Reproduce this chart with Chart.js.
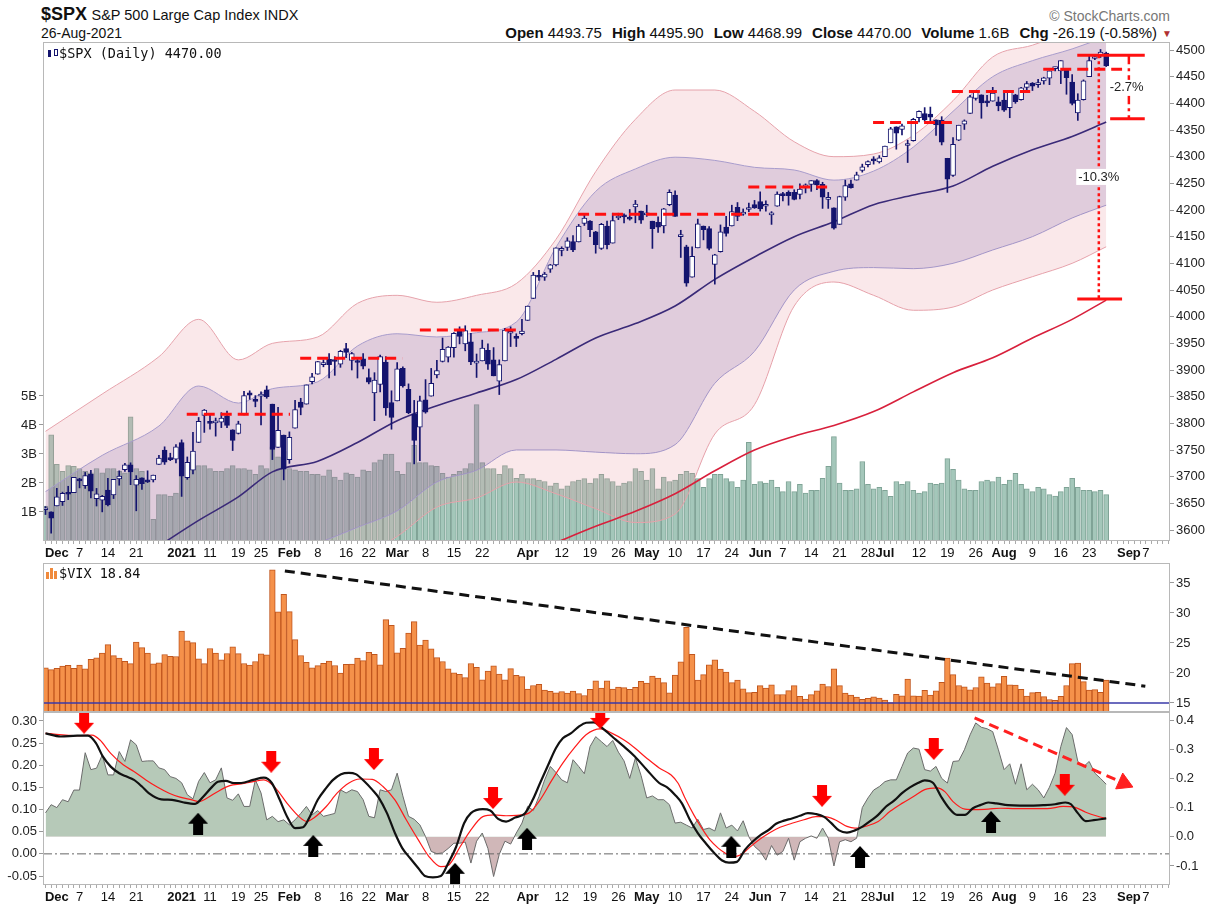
<!DOCTYPE html>
<html>
<head>
<meta charset="utf-8">
<script src="https://cdn.jsdelivr.net/npm/chart.js@4.4.1/dist/chart.umd.min.js"></script>
<style>
  body { margin: 0; background: #fff; width: 1215px; height: 908px; position: relative; overflow: hidden;
         font-family: "Liberation Sans", Arial, sans-serif; color: #111; }
  canvas { position: absolute; left: 0; }
  .t { position: absolute; white-space: nowrap; }
  .mono { font-family: "DejaVu Sans Mono", monospace; }
  .hd span { margin-left: 10px; }
</style>
</head>
<body>
<div class="t" style="left:41px;top:4px;"><b style="font-size:18px;">$SPX</b> <span style="font-size:14.5px;">S&amp;P 500 Large Cap Index INDX</span></div>
<div class="t" style="left:41px;top:25px;font-size:14px;">26-Aug-2021</div>
<div class="t hd" style="right:58px;top:24px;font-size:15px;"><b>Open</b> 4493.75<span><b>High</b> 4495.90</span><span><b>Low</b> 4468.99</span><span><b>Close</b> 4470.00</span><span><b>Volume</b> 1.6B</span><span><b>Chg</b> -26.19 (-0.58%)</span></div>
<div class="t" style="left:1162px;top:28px;font-size:10px;color:#b03030;">&#9660;</div>
<div class="t" style="right:45px;top:8px;font-size:14px;color:#777;">&copy; StockCharts.com</div>

<canvas id="main" width="1215" height="521" style="top:42px;"></canvas>
<canvas id="vix" width="1215" height="149" style="top:563px;"></canvas>
<canvas id="osc" width="1215" height="196" style="top:712px;"></canvas>

<div class="t mono" style="left:47px;top:45px;font-size:13.5px;">
  <svg width="12" height="11" style="vertical-align:-1px"><rect x="1" y="2" width="3" height="7" fill="#14146e"/><rect x="7.5" y="1.5" width="3" height="6" fill="#fff" stroke="#14146e"/></svg>$SPX (Daily) 4470.00</div>
<div class="t mono" style="left:46px;top:565px;font-size:13.5px;">
  <svg width="13" height="12" style="vertical-align:-1px"><rect x="0" y="5" width="3" height="7" fill="#f08a3c"/><rect x="4" y="1" width="3" height="11" fill="#f08a3c"/><rect x="8" y="4" width="3" height="8" fill="#f08a3c"/></svg>$VIX 18.84</div>

<script>
// Day index 0 = 27-Nov-2020, 187 = 26-Aug-2021 (trading days)
const tickIdx  = [2, 6, 11, 16, 24, 29, 34, 38, 43, 48, 53, 57, 62, 67, 72, 77, 85, 91, 96, 101, 106, 111, 116, 121, 126, 130, 135, 140, 145, 148, 154, 159, 164, 169, 174, 179, 184, 191, 194];
const tickText = ['Dec','7','14','21','2021','11','19','25','Feb','8','16','22','Mar','8','15','22','Apr','12','19','26','May','10','17','24','Jun','7','14','21','28','Jul','12','19','26','Aug','9','16','23','Sep','7'];

const spxOpen = [3638,3634,3645,3653,3668,3670,3694,3683,3705,3659,3656,3675,3666,3696,3713,3722,3684,3698,3694,3694,3723,3750,3736,3733,
  3764,3698,3712,3764,3815,3803,3801,3802,3814,3788,3781,3816,3857,3845,3851,3863,3836,3755,3778,
  3732,3791,3840,3836,3878,3892,3910,3920,3917,3911,3940,3918,3915,3921,3886,3857,3873,3915,3839,
  3842,3903,3864,3818,3793,3844,3851,3891,3916,3924,3942,3973,3949,3953,3913,3917,3937,3919,3879,3917,3969,3963,3968,
  3993,4034,4075,4074,4089,4097,4124,4130,4141,4140,4175,4179,4159,4128,4170,4138,4185,4188,4185,4206,4198,
  4191,4179,4177,4170,4210,4228,4150,4131,4074,4129,4170,4165,4098,4122,4168,4170,4205,4192,4201,4210,
  4216,4207,4191,4207,4229,4233,4233,4229,4243,4248,4255,4248,4220,4204,4173,4224,4249,4256,4274,4285,4294,4290,
  4300,4326,4356,4351,4321,4330,4373,4381,4380,4369,4368,4297,4265,4331,4361,4381,4409,4416,4402,4404,4403,
  4406,4392,4416,4407,4430,4438,4435,4442,4447,4465,4461,4462,4440,4382,4407,4450,4484,4490,4494];
const spxHigh = [3644,3634,3678,3671,3682,3699,3697,3708,3712,3678,3665,3697,3695,3711,3725,3726,3702,3698,3711,3703,3740,3756,3744,3760,
  3769,3737,3783,3811,3826,3817,3810,3820,3823,3788,3804,3860,3861,3852,3859,3870,3836,3830,3778,
  3784,3843,3847,3872,3894,3916,3919,3931,3925,3937,3950,3933,3921,3931,3902,3895,3928,3925,3861,
  3914,3906,3874,3843,3851,3882,3903,3918,3960,3944,3970,3981,3983,3969,3930,3956,3949,3942,3919,3978,3981,3968,3995,
  4020,4083,4087,4083,4098,4129,4131,4148,4152,4173,4191,4180,4160,4175,4179,4194,4194,4193,4201,4218,4198,
  4209,4179,4187,4203,4238,4236,4162,4134,4131,4183,4170,4169,4117,4172,4188,4209,4214,4202,4213,4218,
  4234,4217,4197,4234,4233,4236,4238,4249,4249,4255,4257,4252,4233,4204,4226,4256,4256,4271,4286,4292,4300,4302,
  4320,4355,4356,4361,4331,4372,4386,4392,4393,4369,4375,4297,4336,4359,4369,4415,4422,4416,4415,4430,4412,
  4422,4424,4417,4430,4441,4439,4445,4449,4461,4468,4480,4462,4454,4418,4444,4489,4492,4501,4496];
const spxLow = [3629,3594,3645,3646,3657,3670,3679,3678,3660,3645,3634,3645,3659,3684,3710,3685,3636,3676,3689,3690,3723,3723,3730,3726,
  3663,3695,3705,3764,3783,3789,3776,3792,3792,3749,3780,3816,3845,3831,3797,3847,3732,3755,3694,
  3725,3791,3816,3836,3874,3892,3906,3885,3890,3905,3923,3900,3885,3902,3874,3805,3859,3815,3789,
  3842,3868,3818,3724,3730,3819,3851,3885,3915,3915,3924,3949,3936,3910,3886,3917,3901,3889,3854,3917,3944,3944,3966,
  3993,4034,4068,4068,4083,4095,4114,4124,4122,4140,4171,4150,4119,4126,4127,4138,4182,4176,4181,4176,4175,
  4188,4128,4158,4157,4208,4188,4111,4057,4074,4129,4144,4125,4061,4121,4151,4170,4180,4190,4197,4203,
  4198,4198,4173,4207,4217,4209,4219,4221,4232,4235,4238,4203,4203,4164,4173,4218,4241,4256,4271,4281,4286,4288,
  4300,4326,4314,4341,4289,4329,4365,4366,4362,4340,4322,4233,4263,4330,4351,4381,4406,4372,4394,4404,4386,
  4385,4373,4400,4406,4425,4424,4430,4436,4435,4461,4437,4417,4397,4368,4406,4450,4482,4486,4469];
const spxClose = [3638,3622,3662,3669,3667,3699,3692,3702,3673,3668,3663,3647,3695,3701,3722,3709,3695,3687,3690,3703,3735,3727,3732,3756,
  3701,3727,3748,3804,3825,3800,3801,3810,3796,3768,3799,3852,3853,3841,3855,3850,3751,3787,3714,
  3774,3826,3830,3872,3887,3916,3911,3910,3916,3935,3933,3931,3914,3907,3877,3881,3925,3829,3811,
  3902,3870,3820,3768,3842,3821,3875,3899,3939,3943,3969,3963,3974,3915,3913,3941,3911,3889,3910,3975,3971,3959,3973,
  4020,4078,4074,4080,4097,4129,4128,4142,4125,4170,4185,4163,4135,4173,4135,4180,4188,4187,4183,4211,4181,
  4193,4165,4168,4202,4233,4188,4152,4063,4113,4174,4163,4128,4116,4159,4156,4197,4188,4196,4201,4204,
  4202,4208,4193,4230,4227,4227,4220,4239,4247,4255,4247,4224,4222,4166,4225,4246,4242,4266,4281,4291,4292,4298,
  4320,4352,4344,4358,4321,4370,4385,4369,4374,4360,4327,4258,4323,4359,4367,4412,4422,4401,4401,4419,4395,
  4387,4423,4403,4429,4437,4432,4437,4448,4461,4468,4480,4448,4400,4406,4442,4480,4486,4496,4470];
// volume, billions
const spxVolume = [1.2,3.66,2.64,2.4,2.6,2.57,2.5,2.4,2.35,2.5,2.35,2.5,2.5,2.4,2.35,4.28,2.5,2.4,2.05,0.75,1.6,1.6,1.55,1.65,
  3.2,2.6,3.0,2.6,2.6,2.5,2.4,2.4,2.5,2.6,2.5,2.5,2.45,2.3,2.6,2.5,3.25,2.9,3.1,
  2.5,2.45,2.4,2.4,2.3,2.3,2.25,2.45,2.2,2.1,2.35,2.3,2.2,2.45,2.4,2.7,2.8,3.0,3.0,
  2.4,2.3,2.7,3.3,2.7,2.7,2.6,2.57,2.33,2.2,2.3,2.4,2.5,2.67,4.7,2.7,2.5,2.5,2.3,2.6,2.5,2.16,2.3,
  2.15,2.15,2.1,2.05,1.9,2.0,1.8,1.9,2.05,2.1,2.15,2.0,2.15,2.3,2.15,2.05,1.9,2.0,2.05,2.5,2.4,
  2.1,2.5,1.8,2.2,2.05,2.1,2.3,2.4,2.33,2.15,1.85,2.15,2.3,2.3,2.15,2.05,1.85,2.1,3.4,1.95,
  2.05,2.0,2.1,1.85,1.7,2.05,1.7,1.95,1.65,1.75,1.75,2.16,2.57,3.6,2.0,1.75,1.75,1.8,2.74,1.95,1.8,1.85,
  1.75,1.54,2.05,1.95,2.05,1.75,1.65,1.7,2.0,1.95,2.0,2.84,2.47,2.1,1.8,1.75,1.75,2.05,2.1,2.05,2.2,
  1.95,2.1,2.33,1.95,1.8,1.7,1.85,1.8,1.6,1.55,1.7,1.85,2.16,1.85,1.75,1.75,1.7,1.75,1.6];

// bands and moving averages, read at sample days
const bandIdx    = [0,10,20,27,34,40,48,55,62,69,76,83,90,97,104,111,118,125,132,139,146,153,160,167,174,181,187];
const outerUpper = [3785,3855,3925,3995,3919,3950,3962,4025,4040,4027,4040,4062,4145,4272,4370,4425,4425,4385,4328,4300,4305,4340,4405,4487,4509,4535,4555];
const outerLower = [3380,3400,3420,3440,3470,3490,3520,3545,3588,3643,3660,3690,3668,3640,3614,3630,3780,3835,4020,4065,4040,4012,4018,4050,4075,4100,4131];
const innerUpper = [3672,3740,3795,3870,3838,3865,3878,3945,3968,3962,3970,3990,4130,4235,4277,4299,4293,4280,4275,4256,4273,4318,4385,4450,4480,4502,4525];
const innerLower = [3420,3440,3470,3500,3520,3545,3575,3605,3636,3690,3712,3750,3750,3746,3743,3760,3875,3935,4050,4085,4092,4090,4100,4125,4150,4185,4209];
const ma50Idx  = [20,27,34,40,48,55,62,69,76,83,90,97,104,111,118,125,132,139,146,153,160,167,174,181,187];
const ma50     = [3570,3618,3662,3709,3729,3764,3805,3833,3857,3882,3920,3960,3987,4020,4070,4112,4150,4178,4210,4228,4245,4282,4313,4338,4365];
const ma200Idx = [89,97,104,111,118,125,132,139,146,153,160,167,174,181,187];
const ma200    = [3572,3607,3635,3668,3711,3750,3776,3796,3822,3859,3895,3923,3960,3995,4031];

// resistance lines [fromDay, toDay, price]
const resLines = [[24.9,43.1,3817],[44.9,62.9,3922],[66,84,3975],[93.9,126.5,4192],[123.9,137.8,4243],[145.9,159.8,4364],[159.8,173.6,4422],[175.9,189.8,4464]];
const levelLines = [[181.9,193.8,4490],[187.7,193.8,4371],[181.9,189.8,4033]];
const pctLabels = [['-2.7%',190.6,4429],['-10.3%',185.7,4262]];

const vixClose = [20.84,20.57,20.77,21.17,21.28,20.79,21.30,20.68,22.27,22.52,23.31,24.72,22.89,22.50,21.93,21.57,25.16,24.23,23.31,21.53,21.70,23.08,22.77,22.75,
  26.97,25.34,25.07,22.37,21.56,24.08,23.33,22.21,23.25,24.34,23.24,21.58,21.32,21.91,23.19,23.02,37.21,30.21,33.09,
  30.24,25.56,22.91,21.77,20.87,21.24,21.63,21.99,21.25,19.97,21.46,21.50,22.49,22.05,23.45,23.11,21.34,28.89,27.95,
  23.35,24.10,26.67,28.57,24.66,25.47,24.03,22.56,21.91,20.69,20.03,19.79,19.23,21.58,20.95,18.88,20.30,21.20,19.81,18.86,20.74,19.61,19.40,
  17.33,17.91,18.12,17.16,16.95,16.69,16.91,16.65,16.99,16.57,16.25,17.29,18.68,17.50,18.71,17.33,17.64,17.56,17.28,17.61,18.61,
  18.31,19.48,19.15,18.39,16.69,19.66,21.84,27.59,23.13,18.81,19.72,21.34,22.18,20.67,20.15,18.40,18.84,17.36,16.74,16.76,
  17.90,17.48,18.04,16.42,16.42,17.07,17.89,16.10,15.65,16.39,17.02,18.15,17.75,20.70,17.89,16.66,16.32,15.97,15.62,15.76,16.02,15.83,
  15.48,15.07,16.44,16.20,19.00,16.18,16.17,17.12,16.33,17.01,18.45,22.50,19.73,17.91,17.69,17.20,17.58,19.36,18.31,17.70,18.24,
  19.46,18.04,17.97,17.28,16.15,16.72,16.79,16.06,15.59,15.45,16.12,17.91,21.57,21.67,18.56,17.15,17.22,16.79,18.84];
const vixTrend = [[42.2,37.0],[193.9,17.8]];
const vixFloor = 15;

// lower panel: histogram area (right axis), two signal lines (left axis)
const oscArea = [0.082,0.11,0.10,0.127,0.12,0.16,0.16,0.288,0.23,0.235,0.28,0.212,0.212,0.292,0.258,0.332,0.315,0.258,0.26,0.26,
  0.236,0.23,0.206,0.2,0.185,0.144,0.13,0.19,0.22,0.185,0.195,0.236,0.133,0.125,0.147,0.104,0.104,0.195,0.15,0.058,
  0.07,0.052,0.058,0.041,0.058,0.08,0.104,0.075,0.09,0.07,0.075,0.08,0.161,0.15,0.161,0.155,0.127,0.07,0.065,0.161,
  0.155,0.161,0.218,0.14,0.07,0.06,0.041,0.001,-0.05,-0.058,-0.055,-0.04,-0.022,-0.022,-0.018,-0.09,-0.015,0.013,-0.04,-0.136,
  -0.06,-0.015,-0.025,0.013,0.047,0.104,0.09,0.138,0.195,0.241,0.22,0.195,0.185,0.264,0.241,0.216,0.309,0.343,0.326,0.309,
  0.33,0.29,0.26,0.2,0.27,0.21,0.133,0.14,0.127,0.127,0.11,0.047,0.05,0.04,0.03,0.06,0.025,0.03,0.02,0.082,
  0.03,0.04,0.02,0.055,0.0,-0.033,-0.05,-0.08,-0.03,-0.063,-0.05,-0.005,-0.08,-0.017,-0.005,0.003,-0.005,0.03,-0.005,-0.1,
  -0.017,-0.01,-0.017,-0.005,0.1,0.133,0.16,0.172,0.189,0.195,0.195,0.241,0.287,0.304,0.3,0.23,0.225,0.241,0.2,0.184,
  0.258,0.26,0.298,0.349,0.39,0.375,0.37,0.36,0.298,0.23,0.25,0.18,0.25,0.161,0.18,0.161,0.133,0.17,0.218,0.309,
  0.374,0.35,0.258,0.24,0.258,0.218,0.2,0.18];
const blackLine = [[0,0.272],[2.7,0.265],[5.6,0.267],[7.5,0.267],[8.9,0.25],[10.1,0.22],[11.5,0.197],[13,0.182],[14.2,0.175],[15.6,0.167],[17,0.152],[18.2,0.137],[20.4,0.123],[22.3,0.122],[24.4,0.116],[26.4,0.113],[27.8,0.129],[29.2,0.149],[30.4,0.163],[31.8,0.165],[33.2,0.16],[34.5,0.16],[36.6,0.167],[38.5,0.172],[39.9,0.16],[41.3,0.122],[42.6,0.084],[44,0.058],[45.4,0.06],[46.6,0.084],[48,0.122],[49.5,0.149],[50.7,0.167],[52.1,0.18],[53.5,0.183],[54.7,0.18],[56.2,0.164],[57.6,0.145],[58.8,0.126],[60.2,0.092],[61.6,0.047],[62.9,0.013],[64.3,-0.01],[65.7,-0.032],[66.9,-0.05],[68.3,-0.053],[69.7,-0.05],[71,-0.021],[72.4,0.016],[73.8,0.069],[75,0.092],[77.1,0.101],[78.4,0.098],[79.8,0.079],[81.2,0.073],[82.8,0.082],[84.5,0.091],[85.9,0.122],[87.2,0.16],[88.6,0.2],[90,0.239],[91.2,0.261],[92.6,0.272],[94,0.287],[95.3,0.296],[96.7,0.297],[97.8,0.288],[99.9,0.265],[102,0.242],[103.9,0.22],[106,0.19],[108.2,0.16],[109.6,0.15],[111,0.133],[112.2,0.114],[113.6,0.077],[115,0.047],[116.4,0.024],[117.9,0.002],[119.3,-0.015],[120.5,-0.02],[121.9,-0.018],[123.3,0.009],[124.7,0.028],[126.1,0.043],[127.6,0.055],[128.8,0.068],[130.2,0.075],[131.6,0.08],[133,0.086],[134.4,0.092],[135.8,0.09],[137.2,0.084],[138.5,0.07],[139.9,0.053],[141.3,0.048],[142.7,0.053],[144.1,0.062],[145.5,0.075],[146.8,0.088],[148.2,0.107],[149.6,0.12],[151,0.137],[152.4,0.15],[153.8,0.16],[155,0.166],[156.5,0.16],[157.9,0.129],[159.3,0.103],[160.7,0.088],[162.1,0.088],[163.5,0.103],[164.8,0.11],[166.2,0.116],[167.6,0.114],[169.7,0.11],[171.8,0.109],[173.8,0.109],[175.9,0.11],[178,0.112],[179.8,0.116],[180.8,0.112],[182,0.092],[183.4,0.074],[184.8,0.076],[187,0.08]];
const redLine = [[0,0.272],[5.6,0.267],[8.2,0.268],[9.6,0.257],[11.5,0.227],[13.7,0.201],[15.6,0.186],[17.7,0.167],[19.7,0.151],[21.8,0.137],[23.7,0.128],[25.8,0.122],[27.1,0.118],[28.5,0.126],[30.4,0.141],[32.5,0.154],[34.5,0.158],[36.6,0.163],[38.5,0.167],[40.6,0.148],[42.6,0.114],[44.7,0.084],[46.1,0.073],[47.3,0.081],[49.5,0.107],[51.4,0.137],[53.5,0.16],[55.4,0.169],[57.6,0.168],[59.5,0.152],[61.6,0.122],[63.6,0.077],[65.7,0.032],[67.6,-0.006],[69.7,-0.029],[71,-0.026],[73.1,0.016],[75,0.054],[77.1,0.084],[79.1,0.088],[81.2,0.086],[83.1,0.087],[85.2,0.092],[87.2,0.122],[89.3,0.167],[91.2,0.205],[93.4,0.242],[95.3,0.269],[97.8,0.282],[99.9,0.272],[102,0.257],[103.9,0.239],[106,0.216],[108.2,0.194],[110.3,0.178],[111.5,0.16],[112.9,0.122],[114.3,0.088],[115.7,0.058],[117.1,0.032],[118.6,0.013],[119.8,0.002],[121.2,-0.006],[122.6,-0.002],[124,0.013],[125.4,0.028],[127.6,0.047],[129.5,0.06],[131.6,0.069],[133.7,0.077],[135.8,0.084],[137.4,0.084],[139.2,0.077],[141.3,0.062],[142.7,0.058],[144.8,0.063],[146.8,0.073],[148.9,0.096],[151,0.114],[153.1,0.13],[155,0.145],[157.2,0.149],[158.6,0.14],[160,0.118],[162.1,0.101],[164,0.1],[166.2,0.101],[168.3,0.103],[171.1,0.102],[173.8,0.102],[176.6,0.102],[179.4,0.107],[181.5,0.105],[183.4,0.094],[185.5,0.085],[187,0.08]];
const sellArrows = [[6.8,0.296],[39.8,0.208],[57.9,0.214],[78.9,0.126],[97.8,0.307],[136.9,0.131],[156.6,0.237],[179.7,0.156]];
const buyArrows  = [[26.9,0.068],[47.2,0.018],[72.2,-0.045],[84.9,0.034],[120.9,0.016],[143.6,-0.007],[166.7,0.072]];
const trendArrow = [[163.8,0.307],[188.6,0.168]];
const trendHead  = [190.1,0.160];

const FONT = '"Liberation Sans", Arial, sans-serif';
const X_MIN = -0.44, X_MAX = 198.25;
const NAVY = '#14146e';
Chart.defaults.font.family = FONT;
Chart.defaults.font.size = 13;
Chart.defaults.color = '#222';

const allDays = [];
for (let d = 0; d <= 198; d++) allDays.push(d);
const pts = (xs, ys) => xs.map((x, k) => ({ x: x, y: ys[k] }));
const pairs = arr => arr.map(p => ({ x: p[0], y: p[1] }));
const noPad = ax => { ax.paddingTop = 0; ax.paddingBottom = 0; ax.paddingLeft = 0; ax.paddingRight = 0; };

function dateAxis(h) {
  return {
    type: 'linear', min: X_MIN, max: X_MAX, offset: false,
    afterBuildTicks: ax => { ax.ticks = allDays.map(v => ({ value: v })); },
    afterFit: ax => { ax.height = h; noPad(ax); },
    grid: { offset: false, drawOnChartArea: false, tickLength: 3, color: '#aaa' },
    border: { display: false },
    ticks: {
      autoSkip: false, maxRotation: 0, minRotation: 0, padding: 2, color: '#111',
      callback: v => { const k = tickIdx.indexOf(v); return k < 0 ? '' : tickText[k]; },
      font: c => {
        const k = c.tick ? tickIdx.indexOf(c.tick.value) : -1;
        const bold = k >= 0 && /^([A-Z]|2021)/.test(tickText[k]);
        return { family: FONT, size: 13, weight: bold ? 'bold' : 'normal' };
      }
    }
  };
}
function valueAxis(pos, min, max, ticks, width, fmt) {
  return {
    type: 'linear', position: pos, min: min, max: max,
    afterBuildTicks: ax => { ax.ticks = ticks.map(v => ({ value: v })); },
    afterFit: ax => { ax.width = width; noPad(ax); },
    grid: { drawOnChartArea: false, tickLength: 4, color: '#999' },
    border: { display: false },
    ticks: { padding: 2, color: '#222', font: { family: FONT, size: 13 }, callback: fmt }
  };
}

// panel frame
const frame = {
  id: 'frame',
  afterDraw(chart) {
    const a = chart.chartArea, ctx = chart.ctx;
    ctx.save();
    ctx.strokeStyle = '#b8b8b8';
    ctx.lineWidth = 1;
    ctx.strokeRect(Math.round(a.left) + 0.5, Math.round(a.top) + 0.5, Math.round(a.width) - 1, Math.round(a.height) - 1);
    ctx.restore();
  }
};

// percentage labels in the price panel
const pctText = {
  id: 'pctText',
  afterDatasetsDraw(chart) {
    const ctx = chart.ctx, x = chart.scales.x, y = chart.scales.y;
    ctx.save();
    ctx.font = '13px ' + FONT;
    ctx.textAlign = 'center';
    ctx.textBaseline = 'middle';
    pctLabels.forEach(p => {
      const px = x.getPixelForValue(p[1]), py = y.getPixelForValue(p[2]);
      const w = ctx.measureText(p[0]).width + 4;
      ctx.fillStyle = '#fff';
      ctx.fillRect(px - w / 2, py - 8, w, 16);
      ctx.fillStyle = '#222';
      ctx.fillText(p[0], px, py);
    });
    ctx.restore();
  }
};

const common = {
  responsive: false, animation: false, devicePixelRatio: 1,
  layout: { padding: 0, autoPadding: false },
  plugins: { legend: { display: false }, tooltip: { enabled: false } }
};

// ---------- price panel ----------
const days = spxClose.map((_, i) => i);
const upDay = days.map(i => spxClose[i] >= spxOpen[i]);
const mainSets = [
  { type: 'bar', yAxisID: 'yv', order: 10, grouped: false, barThickness: 5,
    data: pts(days, spxVolume), backgroundColor: '#a4c7ba', borderColor: '#7fa396', borderWidth: 1 },
  { type: 'line', yAxisID: 'y', order: 9, data: pts(bandIdx, outerUpper), borderColor: '#e6a3ac', borderWidth: 1,
    pointRadius: 0, cubicInterpolationMode: 'monotone', fill: { target: '+1' }, backgroundColor: 'rgba(232,150,160,0.22)' },
  { type: 'line', yAxisID: 'y', order: 9, data: pts(bandIdx, outerLower), borderColor: '#e6a3ac', borderWidth: 1,
    pointRadius: 0, cubicInterpolationMode: 'monotone', fill: false },
  { type: 'line', yAxisID: 'y', order: 8, data: pts(bandIdx, innerUpper), borderColor: '#a89ccc', borderWidth: 1,
    pointRadius: 0, cubicInterpolationMode: 'monotone', fill: { target: '+1' }, backgroundColor: 'rgba(120,90,160,0.2)' },
  { type: 'line', yAxisID: 'y', order: 8, data: pts(bandIdx, innerLower), borderColor: '#a89ccc', borderWidth: 1,
    pointRadius: 0, cubicInterpolationMode: 'monotone', fill: false },
  { type: 'line', yAxisID: 'y', order: 7, data: pts(ma50Idx, ma50), borderColor: '#3a2a78', borderWidth: 1.6,
    pointRadius: 0, cubicInterpolationMode: 'monotone' },
  { type: 'line', yAxisID: 'y', order: 7, data: pts(ma200Idx, ma200), borderColor: '#d8203c', borderWidth: 1.6,
    pointRadius: 0, cubicInterpolationMode: 'monotone' },
  { type: 'bar', yAxisID: 'y', order: 5, grouped: false, barThickness: 1,
    data: days.map(i => ({ x: i, y: [spxLow[i], spxHigh[i]] })), backgroundColor: NAVY },
  { type: 'bar', yAxisID: 'y', order: 4, grouped: false, barThickness: 5, minBarLength: 2,
    data: days.map(i => ({ x: i, y: [spxOpen[i], spxClose[i]] })),
    backgroundColor: days.map(i => upDay[i] ? '#ffffff' : NAVY), borderColor: NAVY, borderWidth: 1, borderSkipped: false }
];
resLines.forEach(r => mainSets.push({ type: 'line', yAxisID: 'y', order: 1, data: [{ x: r[0], y: r[2] }, { x: r[1], y: r[2] }],
  borderColor: '#ff1010', borderWidth: 3, borderDash: [11, 6], pointRadius: 0 }));
levelLines.forEach(r => mainSets.push({ type: 'line', yAxisID: 'y', order: 1, data: [{ x: r[0], y: r[2] }, { x: r[1], y: r[2] }],
  borderColor: '#ff1010', borderWidth: 3, pointRadius: 0 }));
mainSets.push({ type: 'line', yAxisID: 'y', order: 1, data: [{ x: 191, y: levelLines[0][2] }, { x: 191, y: levelLines[1][2] }],
  borderColor: '#ff1010', borderWidth: 2.5, borderDash: [9, 4, 3, 4], pointRadius: 0 });
mainSets.push({ type: 'line', yAxisID: 'y', order: 1, data: [{ x: 185.7, y: levelLines[0][2] }, { x: 185.7, y: levelLines[2][2] }],
  borderColor: '#ff1010', borderWidth: 2.5, borderDash: [3, 3], pointRadius: 0 });

new Chart(document.getElementById('main'), {
  type: 'bar',
  data: { datasets: mainSets },
  options: Object.assign({}, common, {
    scales: {
      x: dateAxis(22),
      y: valueAxis('right', 3579.4, 4515, [3600,3650,3700,3750,3800,3850,3900,3950,4000,4050,4100,4150,4200,4250,4300,4350,4400,4450,4500], 45),
      yv: valueAxis('left', 0, 17.2, [1, 2, 3, 4, 5], 43, v => v + 'B')
    }
  }),
  plugins: [frame, pctText]
});

// ---------- VIX panel ----------
new Chart(document.getElementById('vix'), {
  type: 'bar',
  data: { datasets: [
    { type: 'line', order: 1, data: pairs(vixTrend), borderColor: '#111', borderWidth: 3, borderDash: [10, 6], pointRadius: 0 },
    { type: 'line', order: 2, data: [{ x: X_MIN, y: vixFloor }, { x: X_MAX, y: vixFloor }], borderColor: '#3a3aa8', borderWidth: 1.5, pointRadius: 0 },
    { type: 'bar', order: 3, grouped: false, barThickness: 5.7, data: pts(days, vixClose),
      backgroundColor: '#f5914a', borderColor: '#c0561e', borderWidth: 1 }
  ] },
  options: Object.assign({}, common, {
    layout: { padding: { left: 43 }, autoPadding: false },
    scales: {
      x: { type: 'linear', min: X_MIN, max: X_MAX, offset: false, display: false },
      y: valueAxis('right', 13.5, 38.33, [15, 20, 25, 30, 35], 45)
    }
  }),
  plugins: [frame]
});

// ---------- oscillator panel ----------
function arrowImg(color, down) {
  const c = document.createElement('canvas');
  c.width = 20; c.height = 22;
  const g = c.getContext('2d');
  g.fillStyle = color;
  g.beginPath();
  if (down) {
    g.moveTo(5, 0); g.lineTo(15, 0); g.lineTo(15, 11); g.lineTo(20, 11); g.lineTo(10, 22); g.lineTo(0, 11); g.lineTo(5, 11);
  } else {
    g.moveTo(10, 0); g.lineTo(20, 11); g.lineTo(15, 11); g.lineTo(15, 22); g.lineTo(5, 22); g.lineTo(5, 11); g.lineTo(0, 11);
  }
  g.closePath();
  g.fill();
  return c;
}

new Chart(document.getElementById('osc'), {
  type: 'line',
  data: { datasets: [
    { yAxisID: 'yl', order: 1, data: pairs(sellArrows), showLine: false, pointStyle: arrowImg('#ff0000', true), pointRadius: 10 },
    { yAxisID: 'yl', order: 1, data: pairs(buyArrows), showLine: false, pointStyle: arrowImg('#000000', false), pointRadius: 10 },
    { yAxisID: 'yl', order: 2, data: pairs(trendArrow), borderColor: '#ff2020', borderWidth: 3, borderDash: [10, 6], pointRadius: 0 },
    { yAxisID: 'yl', order: 2, data: [{ x: trendHead[0], y: trendHead[1] }], showLine: false, pointStyle: 'triangle',
      rotation: 114, pointRadius: 10, backgroundColor: '#ff2020', borderColor: '#ff2020' },
    { yAxisID: 'yl', order: 3, data: pairs(blackLine), borderColor: '#111', borderWidth: 2.2, pointRadius: 0, cubicInterpolationMode: 'monotone' },
    { yAxisID: 'yl', order: 4, data: pairs(redLine), borderColor: '#ff1a1a', borderWidth: 1.2, pointRadius: 0, cubicInterpolationMode: 'monotone' },
    { yAxisID: 'yl', order: 5, data: [{ x: X_MIN, y: 0 }, { x: X_MAX, y: 0 }], borderColor: '#666', borderWidth: 1, borderDash: [9, 3, 2, 3], pointRadius: 0 },
    { yAxisID: 'yr', order: 6, data: pts(days, oscArea), borderColor: '#6b6b6b', borderWidth: 1, pointRadius: 0, tension: 0,
      fill: { target: { value: 0 }, above: '#b6c9b8', below: '#d0b7b8' } }
  ] },
  options: Object.assign({}, common, {
    scales: {
      x: dateAxis(23),
      yl: valueAxis('left', -0.0703, 0.3203, [-0.05, 0, 0.05, 0.1, 0.15, 0.2, 0.25, 0.3], 43, v => v.toFixed(2)),
      yr: valueAxis('right', -0.1651, 0.4274, [-0.1, 0, 0.1, 0.2, 0.3, 0.4], 45, v => v.toFixed(1))
    }
  }),
  plugins: [frame]
});
</script>
</body>
</html>
